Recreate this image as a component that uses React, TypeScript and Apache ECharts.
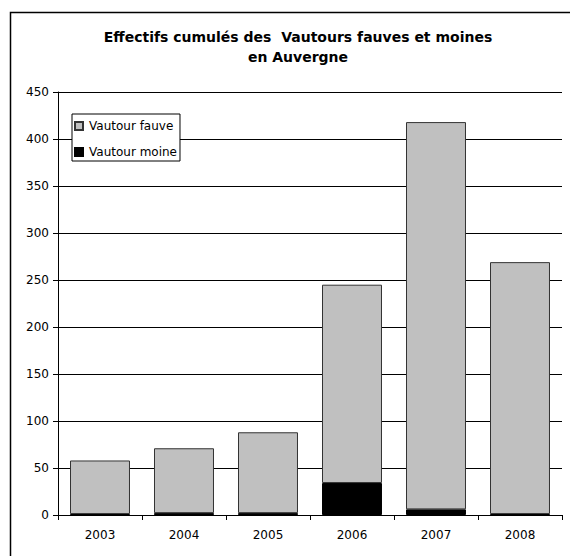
import React, { useEffect, useRef } from "react";
import * as echarts from "echarts";

const years = ["2003", "2004", "2005", "2006", "2007", "2008"];
const vautourMoine = [1, 2, 2, 34, 6, 1];
const vautourFauve = [57, 69, 86, 211, 412, 268];
const yTicks = { min: 0, max: 450, interval: 50 };

export default function App() {
  const ref = useRef<HTMLDivElement>(null);
  useEffect(() => {
    if (!ref.current) return;
    const chart = echarts.init(ref.current, null, { renderer: "svg" });
    const font = "'DejaVu Sans', Arial, sans-serif";
    chart.setOption({
      animation: false,
      backgroundColor: "#ffffff",
      textStyle: { fontFamily: font },
      title: {
        text: "Effectifs cumulés des  Vautours fauves et moines\nen Auvergne",
        left: 293,
        textAlign: "center",
        top: 22,
        padding: 5,
        textStyle: {
          fontFamily: font,
          fontSize: 14,
          fontWeight: "bold",
          color: "#000",
          lineHeight: 20,
        },
      },
      graphic: [
        {
          type: "rect",
          shape: { x: 10.5, y: 12.5, width: 700, height: 700 },
          style: { fill: "none", stroke: "#000", lineWidth: 1.5 },
          silent: true,
          z: 0,
        },
      ],
      legend: {
        data: ["Vautour fauve", "Vautour moine"],
        orient: "vertical",
        left: 72,
        top: 114,
        padding: [6, 3, 3, 2],
        itemGap: 14,
        itemWidth: 8,
        itemHeight: 8,
        backgroundColor: "#fff",
        borderColor: "#000",
        borderWidth: 1,
        borderRadius: 0,
        icon: "rect",
        textStyle: { fontFamily: font, fontSize: 12, color: "#000", padding: [0, 0, 0, 1] },
        z: 10,
      },
      grid: { left: 58, right: 8, top: 92, bottom: 41, containLabel: false },
      xAxis: {
        type: "category",
        data: years,
        axisLine: { lineStyle: { color: "#000", width: 1 } },
        axisTick: { show: true, length: 5, interval: 0, lineStyle: { color: "#000" } },
        axisLabel: { fontFamily: font, fontSize: 12, color: "#000", margin: 14 },
      },
      yAxis: {
        type: "value",
        min: yTicks.min,
        max: yTicks.max,
        interval: yTicks.interval,
        axisLine: { show: true, lineStyle: { color: "#000", width: 1 } },
        axisTick: { show: true, length: 5, lineStyle: { color: "#000" } },
        axisLabel: { fontFamily: font, fontSize: 12, color: "#000", margin: 9 },
        splitLine: { show: true, lineStyle: { color: "#000", width: 1 } },
      },
      series: [
        {
          name: "Vautour moine",
          type: "bar",
          stack: "total",
          data: vautourMoine,
          barCategoryGap: "28.6%",
          itemStyle: { color: "#000000", borderColor: "#000", borderWidth: 1 },
          z: 3,
        },
        {
          name: "Vautour fauve",
          type: "bar",
          stack: "total",
          data: vautourFauve,
          barCategoryGap: "28.6%",
          itemStyle: { color: "#c0c0c0", borderColor: "#333", borderWidth: 1 },
          z: 3,
        },
      ],
    });
    return () => chart.dispose();
  }, []);
  return (
    <div
      ref={ref}
      style={{ position: "fixed", left: 0, top: 0, width: 570, height: 556 }}
    />
  );
}
